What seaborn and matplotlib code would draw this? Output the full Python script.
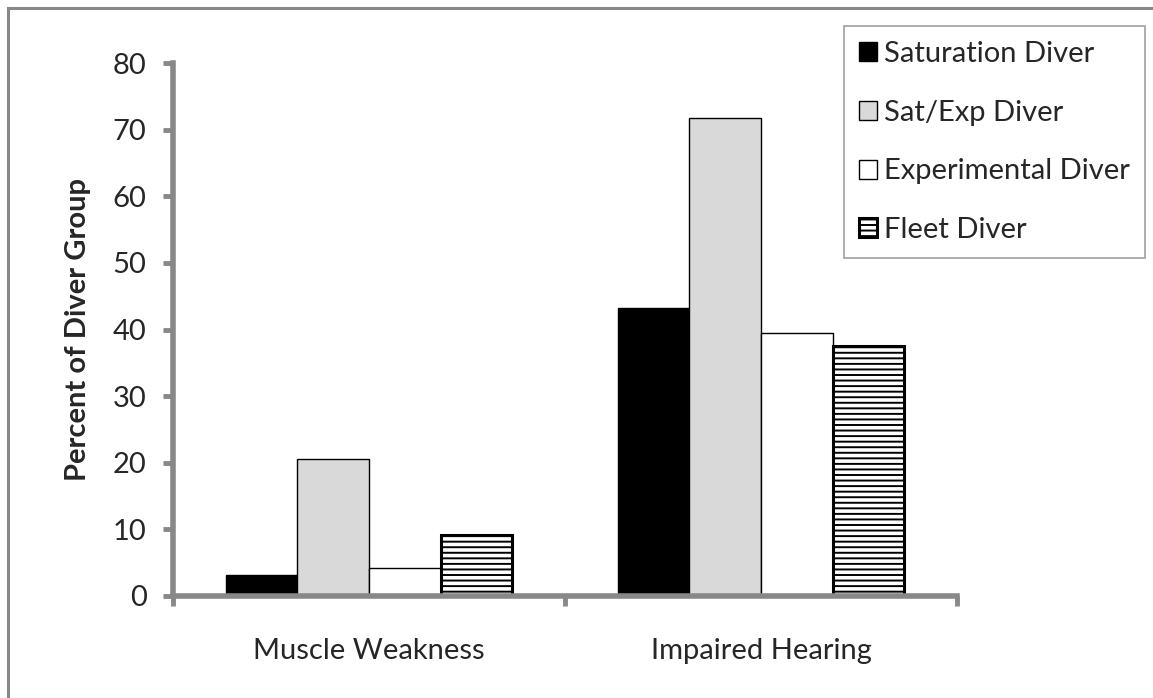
import matplotlib
matplotlib.use("Agg")
import matplotlib.pyplot as plt
import seaborn as sns
import pandas as pd
from matplotlib.patches import Rectangle

symptoms = ["Muscle Weakness", "Impaired Hearing"]
groups = ["Saturation Diver", "Sat/Exp Diver", "Experimental Diver", "Fleet Diver"]
saturation = [3.1, 43.2]
sat_exp = [20.6, 71.8]
experimental = [4.2, 39.5]
fleet = [9.2, 37.5]
y_ticks = [0, 10, 20, 30, 40, 50, 60, 70, 80]
colors = ["#000000", "#d9d9d9", "#ffffff", "#ffffff"]

rows = []
for g, vals in zip(groups, [saturation, sat_exp, experimental, fleet]):
    for s, v in zip(symptoms, vals):
        rows.append({"symptom": s, "group": g, "percent": v})
df = pd.DataFrame(rows)

sns.set_theme(style="white")
plt.rcParams["font.family"] = ["Lato", "DejaVu Sans"]
plt.rcParams["hatch.linewidth"] = 1.4
plt.rcParams["hatch.color"] = "black"

W, H = 1153, 698
fig = plt.figure(figsize=(W / 100, H / 100), dpi=100)
ax = fig.add_axes([173 / W, 1 - 596 / H, (957 - 173) / W, (596 - 63) / H])

sns.barplot(data=df, x="symptom", y="percent", hue="group", order=symptoms,
            hue_order=groups, palette=colors, width=0.73, saturation=1,
            edgecolor="black", linewidth=1.0, ax=ax, legend=False)

for p in ax.containers[3]:
    p.set_hatch("---")
    p.set_linewidth(2.2)

ax.set_xlim(-0.5, 1.5)
ax.set_ylim(0, 80)
ax.set_yticks(y_ticks)
ax.set_yticklabels([str(t) for t in y_ticks])
ax.set_xlabel("")
ax.set_ylabel("Percent of Diver Group", fontsize=21, fontweight="bold", labelpad=16)

spine_col = "#888888"
for side in ["top", "right"]:
    ax.spines[side].set_visible(False)
for side in ["left", "bottom"]:
    ax.spines[side].set_color(spine_col)
    ax.spines[side].set_linewidth(4)

ax.tick_params(axis="y", which="major", direction="out", length=7, width=3.5,
               color=spine_col, labelsize=21, pad=12, left=True)
ax.set_xticks([-0.5, 0.5, 1.5], minor=True)
ax.tick_params(axis="x", which="minor", direction="out", length=7, width=3.5,
               color=spine_col, bottom=True)
ax.tick_params(axis="x", which="major", length=0, labelsize=21, pad=30)

handles = [c.patches[0] for c in ax.containers]
leg = fig.legend(handles, groups, loc="upper left",
                 bbox_to_anchor=(844 / W, 1 - 26 / H), bbox_transform=fig.transFigure,
                 frameon=True, fancybox=False, fontsize=21, handlelength=0.62,
                 handleheight=0.62, handletextpad=0.22, labelspacing=1.12,
                 borderpad=0.52, borderaxespad=0)
leg.get_frame().set_edgecolor("#888888")
leg.get_frame().set_linewidth(1.2)

fig.patches.append(Rectangle((8 / W, -0.1), 1.2, 1 - 8 / H + 0.1,
                             transform=fig.transFigure, fill=False,
                             edgecolor="#888888", linewidth=2.2))

fig.savefig("out.png", dpi=100)
